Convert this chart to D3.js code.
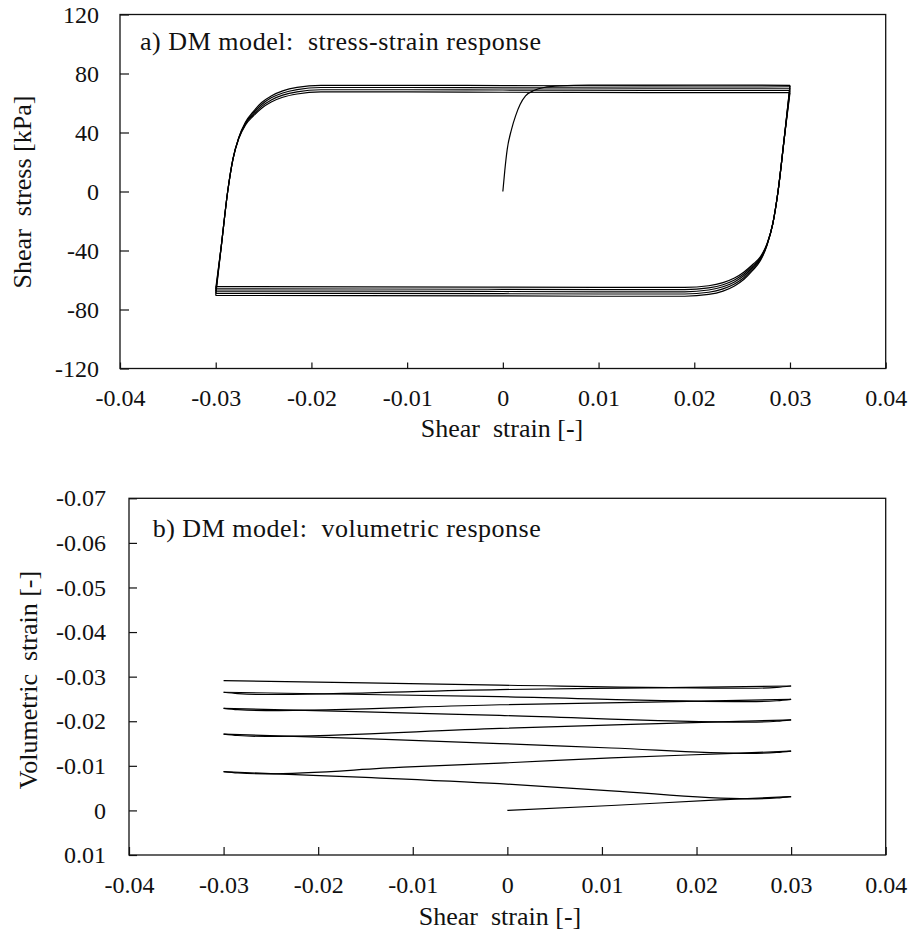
<!DOCTYPE html>
<html><head><meta charset="utf-8">
<script src="https://cdn.jsdelivr.net/npm/d3@7"></script>
<style>
body{margin:0;background:#fff}
text{font-family:"Liberation Serif","Times New Roman","DejaVu Serif",serif;fill:#111;white-space:pre}
</style>
</head><body>
<svg id="chart" width="915" height="939"></svg>
<script>
// ---------- tick values ----------
const strainTicks = [-0.04,-0.03,-0.02,-0.01,0,0.01,0.02,0.03,0.04];
const stressTicks = [-120,-80,-40,0,40,80,120];
const volTicks = [-0.07,-0.06,-0.05,-0.04,-0.03,-0.02,-0.01,0,0.01];

// ---------- a) stress-strain branches [shear strain, shear stress kPa] ----------
const ssB1 = [[0,0],[0.0002,14],[0.00046,28.7],[0.0009,42],[0.00133,51.3],[0.0018,59],[0.00237,64.8],[0.0033,68.6],[0.0043,70.5],[0.006,71.6],[0.009,72.1],[0.02,72.2],[0.03,72]];
const ssB2 = [[0.03,72],[0.0294,36],[0.02875,0],[0.0282,-22],[0.0276,-36.5],[0.0269,-47],[0.0261,-53.5],[0.0252,-59.5],[0.0242,-64],[0.023,-67.5],[0.0215,-69.8],[0.019,-71],[0.01,-71],[0,-70.8],[-0.015,-70.6],[-0.03,-70.5]];
const ssB3 = [[-0.03,-70.5],[-0.0294,-36],[-0.02875,0],[-0.0282,22],[-0.0276,36.5],[-0.0269,47],[-0.0261,54],[-0.0252,60.3],[-0.0242,64.8],[-0.023,68.2],[-0.0215,70.6],[-0.019,72],[-0.01,72],[0,71.8],[0.015,71.6],[0.03,71.5]];
const ssB4 = [[0.03,71.5],[0.0294,36],[0.02875,0],[0.0282,-22],[0.0276,-36.2],[0.0269,-46.3],[0.0261,-52.5],[0.0252,-58.3],[0.0242,-62.7],[0.023,-66],[0.0215,-68.3],[0.019,-69.5],[0.01,-69.5],[0,-69.3],[-0.015,-69.1],[-0.03,-69]];
const ssB5 = [[-0.03,-69],[-0.0294,-36],[-0.02875,0],[-0.0282,22],[-0.0276,36.2],[-0.0269,46.3],[-0.0261,53],[-0.0252,59],[-0.0242,63.5],[-0.023,66.8],[-0.0215,69.1],[-0.019,70.5],[-0.01,70.5],[0,70.3],[0.015,70.1],[0.03,70]];
const ssB6 = [[0.03,70],[0.0294,36],[0.02875,0],[0.0282,-22],[0.0276,-36],[0.0269,-45.7],[0.0261,-51.5],[0.0252,-57],[0.0242,-61.3],[0.023,-64.6],[0.0215,-66.8],[0.019,-68],[0.01,-68],[0,-67.8],[-0.015,-67.6],[-0.03,-67.5]];
const ssB7 = [[-0.03,-67.5],[-0.0294,-36],[-0.02875,0],[-0.0282,22],[-0.0276,36],[-0.0269,45.7],[-0.0261,52],[-0.0252,57.7],[-0.0242,62.1],[-0.023,65.3],[-0.0215,67.6],[-0.019,69],[-0.01,69],[0,68.8],[0.015,68.6],[0.03,68.5]];
const ssB8 = [[0.03,68.5],[0.0294,36],[0.02875,0],[0.0282,-22],[0.0276,-35.7],[0.0269,-45],[0.0261,-50.5],[0.0252,-55.8],[0.0242,-60],[0.023,-63.2],[0.0215,-65.3],[0.019,-66.5],[0.01,-66.5],[0,-66.3],[-0.015,-66.1],[-0.03,-66]];
const ssB9 = [[-0.03,-66],[-0.0294,-36],[-0.02875,0],[-0.0282,22],[-0.0276,35.7],[-0.0269,45],[-0.0261,51],[-0.0252,56.5],[-0.0242,60.7],[-0.023,63.9],[-0.0215,66.1],[-0.019,67.5],[-0.01,67.5],[0,67.3],[0.015,67.1],[0.03,67]];
const ssB10 = [[0.03,67],[0.0294,36],[0.02875,0],[0.0282,-22],[0.0276,-35.4],[0.0269,-44.3],[0.0261,-49.5],[0.0252,-54.6],[0.0242,-58.7],[0.023,-61.8],[0.0215,-63.9],[0.019,-65],[0.01,-65],[0,-64.8],[-0.015,-64.6],[-0.03,-64.5]];

// ---------- b) volumetric branches [shear strain, volumetric strain] ----------
const vB1 = [[0,0],[0.011,-0.0011],[0.0218,-0.0023],[0.03,-0.0031]];
const vB2 = [[0.03,-0.0031],[0.0285,-0.0028],[0.0255,-0.0026],[0.011,-0.0044],[-0.0008,-0.0060],[-0.015,-0.0074],[-0.0244,-0.0082],[-0.03,-0.0087]];
const vB3 = [[-0.03,-0.0087],[-0.0285,-0.0084],[-0.0255,-0.0082],[-0.011,-0.0097],[-0.0008,-0.0106],[0.011,-0.0118],[0.0239,-0.0128],[0.03,-0.0133]];
const vB4 = [[0.03,-0.0133],[0.0285,-0.0130],[0.0255,-0.0128],[0.011,-0.0140],[-0.0008,-0.0150],[-0.015,-0.0161],[-0.03,-0.0171]];
const vB5 = [[-0.03,-0.0171],[-0.0285,-0.0168],[-0.0255,-0.0166],[-0.0008,-0.0184],[0.015,-0.0194],[0.03,-0.0203]];
const vB6 = [[0.03,-0.0203],[0.0285,-0.0200],[0.0255,-0.0198],[-0.0008,-0.0213],[-0.015,-0.0221],[-0.03,-0.0229]];
const vB7 = [[-0.03,-0.0229],[-0.0285,-0.0226],[-0.0255,-0.0224],[-0.0008,-0.0237],[0.015,-0.0243],[0.03,-0.0249]];
const vB8 = [[0.03,-0.0249],[0.0285,-0.0246],[0.0255,-0.0244],[-0.0008,-0.0255],[-0.015,-0.0260],[-0.03,-0.0265]];
const vB9 = [[-0.03,-0.0265],[-0.0285,-0.0262],[-0.0255,-0.0260],[-0.0008,-0.0271],[0.015,-0.0275],[0.03,-0.0279]];
const vB10 = [[0.03,-0.0279],[0.0285,-0.0276],[0.0255,-0.0274],[-0.0008,-0.0281],[-0.015,-0.0286],[-0.03,-0.0291]];

const ssBranches = [ssB1,ssB2,ssB3,ssB4,ssB5,ssB6,ssB7,ssB8,ssB9,ssB10];
const vBranches = [vB1,vB2,vB3,vB4,vB5,vB6,vB7,vB8,vB9,vB10];

const FONT = '"Liberation Serif","Times New Roman","DejaVu Serif",serif';
const svg = d3.select("#chart");
const fmt = d => (d === 0 ? "0" : (d < 0 ? "-" : "") + (Number.isInteger(d) ? Math.abs(d) : Math.abs(d).toFixed(2)));

function panel(o) {
  const x = d3.scaleLinear().domain([-0.04, 0.04]).range([o.left, o.right]);
  const y = d3.scaleLinear().domain(o.yDomain).range(o.yRange);
  const g = svg.append("g");

  const ax = g.append("g").attr("transform", `translate(0,${o.bottom})`)
    .call(d3.axisBottom(x).tickValues(strainTicks).tickFormat(fmt).tickSize(-o.xTick).tickPadding(0));
  ax.attr("font-family", FONT);
  ax.select(".domain").remove();
  ax.selectAll(".tick line").attr("stroke", "#111").attr("stroke-width", 1.2);
  ax.selectAll("text").attr("dy", null).attr("y", o.xLabY).attr("font-size", 24)
    .attr("fill", "#111").style("font-family", FONT);

  const ay = g.append("g").attr("transform", `translate(${o.left},0)`)
    .call(d3.axisLeft(y).tickValues(o.yTicks).tickFormat(fmt).tickSize(-o.yTick).tickPadding(o.yPad));
  ay.attr("font-family", FONT);
  ay.select(".domain").remove();
  ay.selectAll(".tick line").attr("stroke", "#111").attr("stroke-width", 1.2);
  ay.selectAll("text").attr("font-size", 24).attr("fill", "#111").style("font-family", FONT);

  g.append("rect").attr("x", o.left).attr("y", o.top)
    .attr("width", o.right - o.left).attr("height", o.bottom - o.top)
    .attr("fill", "none").attr("stroke", "#111").attr("stroke-width", 1.3);

  const line = d3.line().x(d => x(d[0])).y(d => y(d[1])).curve(d3.curveMonotoneX);
  o.branches.forEach(b => {
    const pts = b.slice().sort((a, c) => a[0] - c[0]);
    g.append("path").attr("d", line(pts)).attr("fill", "none")
      .attr("stroke", "#000").attr("stroke-width", 1.2).attr("stroke-linejoin", "round");
  });

  g.append("text").attr("x", o.titleX).attr("y", o.titleY).attr("font-size", 26)
    .attr("textLength", o.titleLen).attr("lengthAdjust", "spacing")
    .style("font-family", FONT).text(o.title);
  g.append("text").attr("x", o.xTitleX).attr("y", o.xTitleY).attr("font-size", 26)
    .attr("text-anchor", "middle").style("font-family", FONT).text("Shear  strain [-]");
  g.append("text").attr("transform", `translate(${o.yTitleX},${o.yTitleY}) rotate(-90)`)
    .attr("font-size", 26).attr("text-anchor", "middle").style("font-family", FONT).text(o.yTitle);
}

panel({
  left: 120, right: 885.7, top: 14.5, bottom: 368.5,
  yDomain: [-120, 120], yRange: [368.5, 14.5], yTicks: stressTicks,
  xTick: 6, yTick: 9, yPad: 21, xLabY: 37,
  branches: ssBranches,
  title: "a) DM model:  stress-strain response", titleX: 140, titleY: 50, titleLen: 401,
  xTitleX: 502, xTitleY: 437,
  yTitle: "Shear  stress [kPa]", yTitleX: 31, yTitleY: 192
});

panel({
  left: 129, right: 885.7, top: 498.3, bottom: 855,
  yDomain: [-0.07, 0.01], yRange: [498.3, 855], yTicks: volTicks,
  xTick: 8, yTick: 8, yPad: 23, xLabY: 38,
  branches: vBranches,
  title: "b) DM model:  volumetric response", titleX: 152.7, titleY: 537, titleLen: 388,
  xTitleX: 500, xTitleY: 925,
  yTitle: "Volumetric  strain [-]", yTitleX: 36.5, yTitleY: 680
});
</script>
</body></html>
